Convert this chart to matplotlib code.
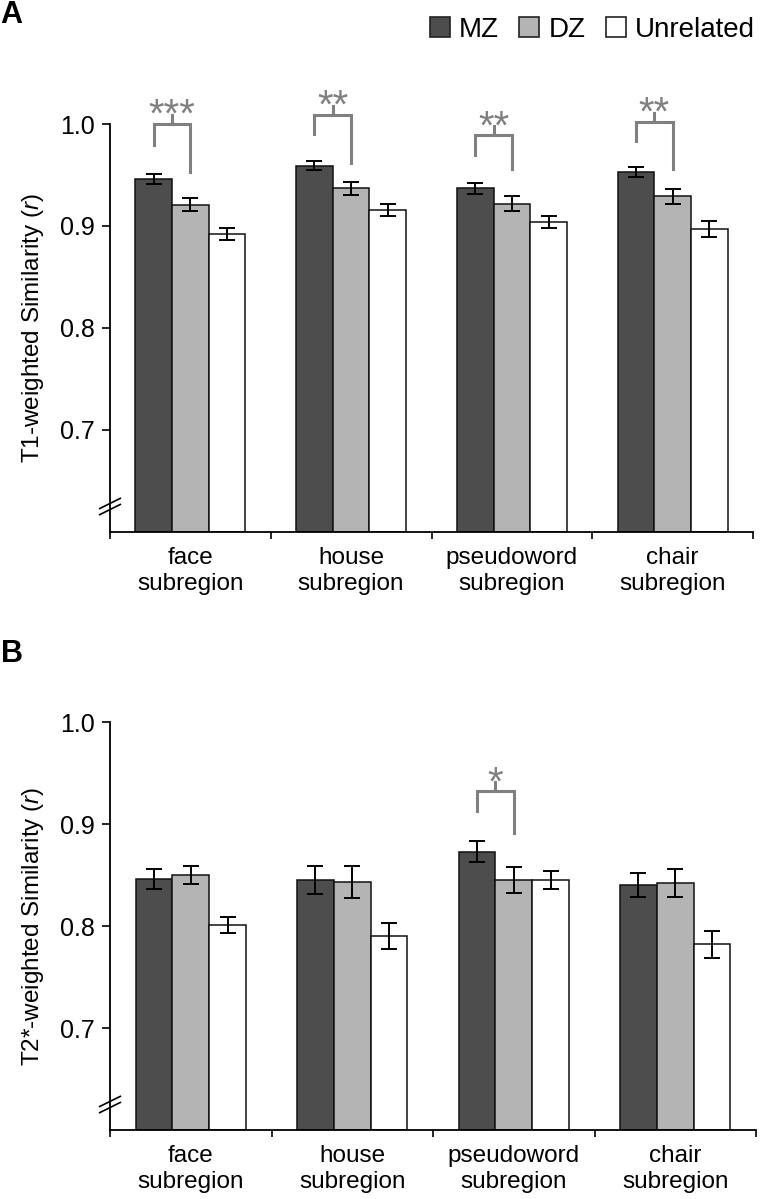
import numpy as np
import matplotlib
matplotlib.use("Agg")
import matplotlib.pyplot as plt
from matplotlib.patches import Patch
import matplotlib.transforms as mtransforms

plt.rcParams["font.family"] = ["Liberation Sans", "DejaVu Sans"]
plt.rcParams["mathtext.fontset"] = "custom"
plt.rcParams["mathtext.it"] = "Liberation Sans:italic"
plt.rcParams["mathtext.rm"] = "Liberation Sans"

# -------------------------
# DATA
# -------------------------
categories = ["face\nsubregion", "house\nsubregion", "pseudoword\nsubregion", "chair\nsubregion"]
groups = ["MZ", "DZ", "Unrelated"]

# panel A: T1-weighted similarity
t1_mz = [0.946, 0.959, 0.937, 0.953]
t1_dz = [0.921, 0.937, 0.922, 0.929]
t1_un = [0.892, 0.916, 0.904, 0.897]
t1_mz_err = [0.0045, 0.0045, 0.0055, 0.0045]
t1_dz_err = [0.006, 0.0065, 0.007, 0.007]
t1_un_err = [0.006, 0.006, 0.006, 0.0075]

# panel B: T2*-weighted similarity
t2_mz = [0.846, 0.845, 0.873, 0.840]
t2_dz = [0.850, 0.843, 0.845, 0.842]
t2_un = [0.801, 0.790, 0.845, 0.782]
t2_mz_err = [0.0095, 0.014, 0.010, 0.012]
t2_dz_err = [0.009, 0.016, 0.0125, 0.0135]
t2_un_err = [0.008, 0.013, 0.009, 0.013]

# significance brackets: (category index, top, left leg end, right leg end, stars)
t1_sig = [(0, 1.000, 0.979, 0.953, "***"),
          (1, 1.009, 0.990, 0.962, "**"),
          (2, 0.989, 0.970, 0.956, "**"),
          (3, 1.002, 0.983, 0.956, "**")]
t2_sig = [(2, 0.932, 0.913, 0.891, "*")]

colors = ["#4d4d4d", "#b4b4b4", "#ffffff"]
sig_color = "#808080"

W, H = 761, 1199
fig = plt.figure(figsize=(W / 100, H / 100), dpi=100)

ax_a = fig.add_axes([110 / W, 1 - 532 / H, 643 / W, (532 - 124) / H])
ax_b = fig.add_axes([110 / W, 1 - 1130 / H, 646 / W, (1130 - 722) / H])


def draw_panel(ax, means, errs, sigs, ylabel):
    x = np.arange(len(categories)) + 0.5
    bw = 0.228
    for k, (m, e) in enumerate(zip(means, errs)):
        pos = x + (k - 1) * bw
        m = np.array(m)
        ax.bar(pos, m - 0.6, width=bw, bottom=0.6, color=colors[k],
               edgecolor="#111111", linewidth=1.1, zorder=2)
        ax.errorbar(pos, m, yerr=e, fmt="none", ecolor="black",
                    elinewidth=1.4, capsize=6, capthick=1.4, zorder=3)

    for i, top, lb, rb, stars in sigs:
        xl = x[i] - bw
        xr = x[i]
        ax.plot([xl, xl, xr, xr], [lb, top, top, rb], color=sig_color,
                lw=2.2, clip_on=False, solid_joinstyle="miter", zorder=4)
        xm = (xl + xr) / 2
        ax.plot([xm, xm], [top, top + 0.009], color=sig_color, lw=2.2,
                clip_on=False, zorder=4)
        ax.text(xm, top - 0.003, stars, ha="center", va="baseline",
                fontsize=29, color=sig_color, clip_on=False)

    ax.set_xlim(0, len(categories))
    ax.set_ylim(0.6, 1.0)
    ax.set_yticks([0.7, 0.8, 0.9, 1.0])
    ax.set_yticklabels(["0.7", "0.8", "0.9", "1.0"])
    ax.set_xticks(np.arange(len(categories) + 1))
    ax.set_xticklabels([])
    ax.set_xticks(x, minor=True)
    ax.set_xticklabels(categories, minor=True, fontsize=17.5, linespacing=1.2)
    ax.tick_params(axis="x", which="minor", length=0, pad=11)
    ax.tick_params(axis="x", which="major", length=5, width=1.2, direction="out")
    ax.tick_params(axis="y", length=6, width=1.2, labelsize=18, pad=5)
    for s in ["top", "right"]:
        ax.spines[s].set_visible(False)
    for s in ["left", "bottom"]:
        ax.spines[s].set_linewidth(1.3)
    ax.set_ylabel(ylabel, fontsize=17.5, labelpad=10)

    # axis break mark
    tr = mtransforms.blended_transform_factory(ax.transAxes, ax.transData)
    for dy in (0.0, 0.006):
        ax.plot([-0.016, 0.016], [0.617 + dy, 0.627 + dy], color="black",
                lw=1.2, transform=tr, clip_on=False, zorder=5)


draw_panel(ax_a, [t1_mz, t1_dz, t1_un], [t1_mz_err, t1_dz_err, t1_un_err],
           t1_sig, "T1-weighted Similarity ($\\it{r}$)")
draw_panel(ax_b, [t2_mz, t2_dz, t2_un], [t2_mz_err, t2_dz_err, t2_un_err],
           t2_sig, "T2*-weighted Similarity ($\\it{r}$)")

fig.text(0 / W, 1 - 0 / H, "A", fontsize=22, fontweight="bold", va="top", ha="left")
fig.text(1 / W, 1 - 639 / H, "B", fontsize=22, fontweight="bold", va="top", ha="left")

handles = [Patch(facecolor=c, edgecolor="#222222", linewidth=1.2) for c in colors]
fig.legend(handles, groups, loc="upper right", bbox_to_anchor=(755 / W, 1 - 17 / H),
           ncol=3, frameon=False, fontsize=20, handlelength=0.72,
           handleheight=0.72, handletextpad=0.34, columnspacing=0.72,
           borderaxespad=0, borderpad=0)

fig.savefig("out.png", dpi=100, facecolor="white")
